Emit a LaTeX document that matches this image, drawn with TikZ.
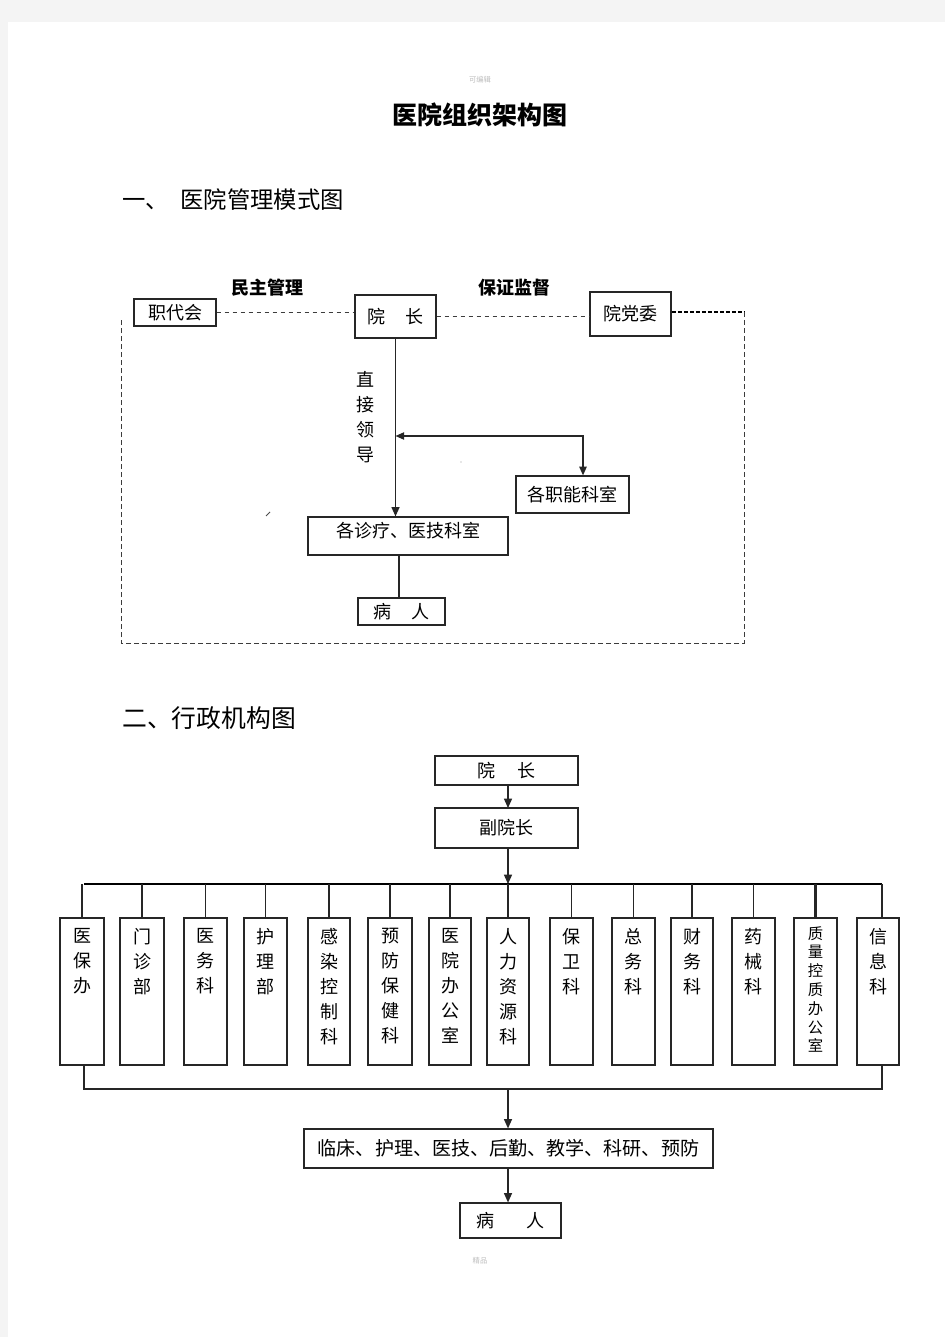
\documentclass[tikz,border=0pt]{standalone}
\usepackage{fontspec}
\setmainfont{Noto Sans CJK SC}
\usetikzlibrary{arrows.meta}
\definecolor{bggray}{RGB}{244,244,244}
\definecolor{linegray}{RGB}{60,60,60}
\definecolor{faint}{RGB}{190,190,190}
\newcommand\myfs[1]{\fontsize{#1}{#1}\selectfont}
\newcommand\myfsb[2]{\fontsize{#1}{#2}\selectfont}
\newcommand\pxbox[7][]{\node[box,#1,minimum width={(#4-#2)*0.75pt},minimum height={(#5-#3)*0.75pt}] (#6) at ({(#2+#4)/2},{(#3+#5)/2}) {#7};}
\begin{document}
\begin{tikzpicture}[x=0.75pt,y=-0.75pt,
  box/.style={draw=black!85,line width=0.9pt,inner sep=0pt,font=\myfs{13.5}},
  vt/.style={anchor=north,inner sep=0pt,align=center,font=\myfsb{13.5}{18.75}},
  conn/.style={draw=black!85,line width=1pt},
  arr/.style={conn,-{Triangle[length=7pt,width=6pt]}},
  darr/.style={conn,{Triangle[length=6.5pt,width=5.5pt]}-{Triangle[length=6.5pt,width=5.5pt]}},
  thindash/.style={draw=linegray,line width=0.6pt,dash pattern=on 3.5pt off 2.5pt},
  thickdash/.style={draw=black,line width=1.4pt,dash pattern=on 3pt off 1.5pt},
  bus/.style={draw=black,line width=1.8pt},
  lbl/.style={inner sep=0pt}]
\useasboundingbox (0,0) rectangle (945,1337);
\fill[bggray] (0,0) rectangle (945,1337);
\fill[white] (8,22) rectangle (945,1337);

% header / footer marks
\node[lbl,text=faint,font=\myfs{5.5}] (mark1) at (480,80) {可编辑};
\node[lbl,text=faint,font=\myfs{5.5}] (mark2) at (480,1261) {精品};

% title
\node[lbl,font=\myfs{18.75}\bfseries] (title) at (480,115) {医院组织架构图};
\node[lbl,anchor=west,font=\myfs{17.5}] (h1) at (122,200) {一、\hspace{0.5em}医院管理模式图};
\node[lbl,anchor=west,font=\myfs{18.6}] (h2) at (122,718) {二、行政机构图};

% ===== section 1 =====
\node[lbl,font=\myfs{13.5}\bfseries] (l1) at (267,288) {民主管理};
\node[lbl,font=\myfs{13.5}\bfseries] (l2) at (514,288) {保证监督};

\pxbox{134}{299}{216}{326}{zdh}{职代会}
\pxbox{355}{295}{436}{338}{yz1}{院\hspace{1.1em}长}
\pxbox[line width=1.3pt]{590}{292}{671}{336}{ddw}{院党委}
\pxbox{516}{476}{629}{513}{znk}{各职能科室}
\pxbox{308}{517}{508}{555}{zl}{}
\node[lbl,font=\myfs{13.5}] (zlt) at (408,531) {各诊疗、医技科室};
\pxbox{358}{598}{445}{625}{br1}{病\hspace{1.1em}人}

\node[vt] (zjld) at (365,371) {直\\接\\领\\导};

\draw[thindash] (zdh.east) -- (zdh.east -| yz1.west);
\draw[thindash] (yz1.east) -- (yz1.east -| ddw.west);
\coordinate (bTR) at (744,312);
\coordinate (bBR) at (744,643);
\coordinate (bBL) at (121,643);
\coordinate (bTL) at (121,320);
\draw[thickdash] (ddw.east |- bTR) -- (bTR);
\draw[thindash] (bTR) -- (bBR) -- (bBL) -- (bTL);

\draw[arr] (yz1.south) -- (yz1.south |- zl.north);
\coordinate (jn) at (583,436);
\draw[darr] (yz1.south |- jn) -- (jn) -- (jn |- znk.north);
\draw[conn] (zl.south -| 399,0) -- (br1.north -| 399,0);

% artifacts
\draw[black!70,line width=0.6pt] (266,516) -- (270,512);
\fill[black!40] (461,462) circle (0.6);

% ===== section 2 =====
\pxbox{435}{756}{578}{785}{yz2}{院\hspace{1.2em}长}
\pxbox{435}{808}{578}{848}{fyz}{副院长}
\draw[arr] (508,785) -- (508,808);

\coordinate (busL) at (84,884);
\coordinate (busR) at (882,884);
\draw[arr] (508,848) -- (508,884);
\draw[bus] (busL) -- (busR);

\foreach \n/\xa/\xb/\t in {
 b1/60/104/{医\\保\\办},
 b2/120/164/{门\\诊\\部},
 b3/184/227/{医\\务\\科},
 b4/244/287/{护\\理\\部},
 b5/308/350/{感\\染\\控\\制\\科},
 b6/368/412/{预\\防\\保\\健\\科},
 b7/429/471/{医\\院\\办\\公\\室},
 b8/487/529/{人\\力\\资\\源\\科},
 b9/550/593/{保\\卫\\科},
 b10/612/655/{总\\务\\科},
 b11/671/713/{财\\务\\科},
 b12/732/775/{药\\械\\科},
 b14/857/899/{信\\息\\科}} {
  \pxbox{\xa}{918}{\xb}{1065}{\n}{}
  \node[vt] (t\n) at ({(\xa+\xb)/2},928) {\t};
}
\pxbox{794}{918}{837}{1065}{b13}{}
\node[vt,font=\myfsb{11.5}{14.1}] (tb13) at (815.5,926) {质\\量\\控\\质\\办\\公\\室};

\foreach \n in {b1,b2,b3,b4,b5,b6,b7,b9,b10,b11,b12}
  \draw[conn] (\n.north) -- (\n.north |- busL);
\draw[conn] (b8.north) -- (b8.north |- busL);
\draw[conn,line width=1.6pt] (b13.north) -- (b13.north |- busL);
\draw[conn] (busR) -- (busR |- b14.north);

\coordinate (botL) at (84,1089);
\coordinate (botR) at (882,1089);
\draw[conn] (botL |- b1.south) -- (botL) -- (botR) -- (botR |- b14.south);

\pxbox[font=\myfs{14.3}]{304}{1129}{713}{1168}{lc}{临床、护理、医技、后勤、教学、科研、预防}
\pxbox{460}{1203}{561}{1238}{br2}{病\hspace{1.8em}人}
\draw[arr] (botL -| 508,0) -- (lc.north -| 508,0);
\draw[arr] (lc.south -| 508,0) -- (br2.north -| 508,0);
\end{tikzpicture}
\end{document}
